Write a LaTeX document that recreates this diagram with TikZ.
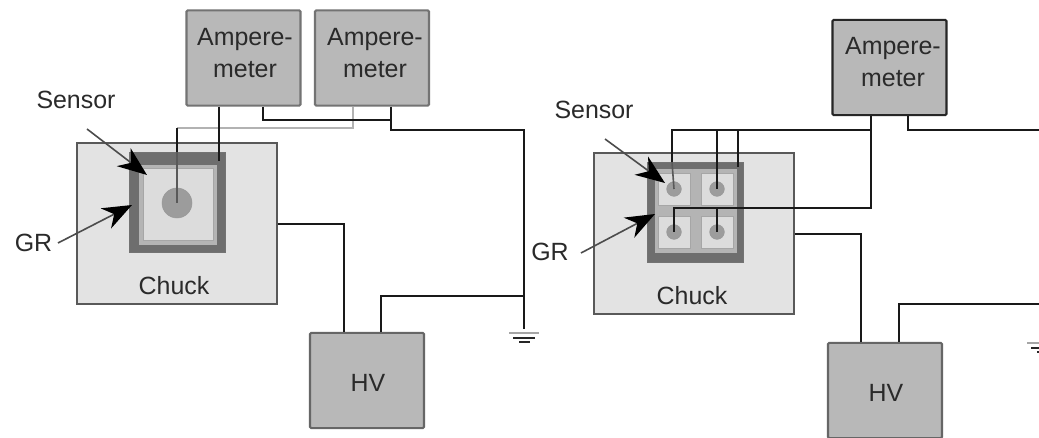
\documentclass[tikz,border=0pt]{standalone}
\usepackage{fontspec}
\setmainfont{Liberation Sans}
\usetikzlibrary{arrows.meta,calc}
\definecolor{boxgray}{HTML}{B8B8B8}
\definecolor{chuckgray}{HTML}{E3E3E3}
\definecolor{guard}{HTML}{6E6E6E}
\definecolor{ringgray}{HTML}{B4B4B4}
\definecolor{padgray}{HTML}{DCDCDC}
\definecolor{dotgray}{HTML}{9C9C9C}
\definecolor{txt}{HTML}{2A2A2A}
\tikzset{
  x=0.75pt,y=-0.75pt,
  lab/.style={inner sep=0pt,text=txt,font=\fontsize{18.7}{24}\selectfont,align=center},
  block/.style={draw=#1,line width=1.6pt,rounded corners=1pt,fill=boxgray,inner sep=0pt,
    minimum width=85.5pt,minimum height=71.5pt},
  block/.default={black!55},
  chuck/.style={draw=black!65,line width=1.2pt,fill=chuckgray,inner sep=0pt,minimum width=150pt,minimum height=120.5pt},
  guardring/.style={draw=black!55,line width=0.6pt,fill=guard,inner sep=0pt,minimum width=72pt,minimum height=75pt},
  ringbox/.style={fill=ringgray,inner sep=0pt},
  padbox/.style={draw=black!35,line width=0.5pt,fill=padgray,inner sep=0pt},
  dot/.style={circle,fill=dotgray,draw=black!40,line width=0.4pt,inner sep=0pt},
  wire/.style={line width=1.5pt,draw=black!90,line join=miter},
  graywire/.style={line width=1.5pt,draw=black!30},
  inwire/.style={line width=1.2pt,draw=black!65},
  callout/.style={line width=1.2pt,draw=black!70,-{Stealth[length=22pt,width=17pt,inset=7pt,black]}},
  gnd1/.style={line width=2pt,draw=black!35},
  gnd2/.style={line width=1.2pt,draw=black!85},
}
\begin{document}
\begin{tikzpicture}
\clip (0,0) rectangle (1039,438);
\fill[white] (0,0) rectangle (1039,438);

% ---------- left assembly ----------
\node[chuck] (chuckL) at (177,223.5) {};
\node[guardring] (grL) at (177,202.5) {};
\node[ringbox,minimum width=58.5pt,minimum height=60pt] (ringL) at (178,205) {};
\node[padbox,minimum width=52.5pt,minimum height=54.5pt] (padL) at (178,204.5) {};
\node[dot,minimum size=22.5pt] (dotL) at (177,203) {};
\node[lab] (chuckTxtL) at (174,286) {Chuck};
\node[block] (ampA) at (243.5,58) {};
\node[block] (ampB) at (372,58) {};
\node[block={black!60}] (hvL) at (367,380.5) {};
\node[lab] (ampAtxt) at (245,53) {Ampere-\\meter};
\node[lab] (ampBtxt) at (375,53) {Ampere-\\meter};
\node[lab] (hvLtxt) at (368,383) {HV};
\node[lab] (sensorL) at (76,100) {Sensor};
\node[lab] (grTxtL) at (33.5,243) {GR};

\coordinate (a1) at (219,161);
\coordinate (a2) at (263,120);
\coordinate (b1) at (391,120);
\coordinate (b2) at (524,130);
\coordinate (gndL) at (524,329);
\coordinate (g1) at (353,128);
\coordinate (g2) at (177,128);
\coordinate (cw) at (344,224);
\coordinate (hw) at (381,296);
\coordinate (jl) at (524,296);

\draw[graywire] (ampB.south -| g1) |- (g2);
\draw[wire] (g2) -- (grL.north -| g2);
\draw[inwire] (grL.north -| g2) -- (dotL.center);
\draw[wire] (ampA.south -| a1) -- (a1);
\draw[wire] (ampA.south -| a2) |- (b1);
\draw[wire] (ampB.south -| b1) |- (b2) -- (gndL);
\draw[wire] (chuckL.east |- cw) -| (hvL.north -| cw);
\draw[wire] (hvL.north -| hw) |- (jl);
\draw[gnd1] (509,333) -- (539,333);
\draw[gnd2] (513,338) -- (535,338);
\draw[gnd2] (519,342) -- (530,342);
\coordinate (sL0) at (87,129);
\coordinate (sL1) at (147,175);
\coordinate (gL0) at (58,243);
\coordinate (gL1) at (132,205);
\draw[callout] (sL0) -- (sL1);
\draw[callout] (gL0) -- (gL1);

% ---------- right assembly ----------
\node[chuck] (chuckR) at (694,233.5) {};
\node[guardring] (grR) at (695,212.5) {};
\node[ringbox,minimum width=61.5pt,minimum height=63pt] (ringR) at (696,211) {};
\node[padbox,minimum width=24pt,minimum height=24.5pt] (p1) at (674,189.5) {};
\node[padbox,minimum width=24pt,minimum height=24.5pt] (p2) at (717,189.5) {};
\node[padbox,minimum width=24pt,minimum height=24pt] (p3) at (674,232.5) {};
\node[padbox,minimum width=24pt,minimum height=24pt] (p4) at (717,232.5) {};
\node[dot,minimum size=11pt] (d1) at (674,189) {};
\node[dot,minimum size=11pt] (d2) at (717,189) {};
\node[dot,minimum size=11pt] (d3) at (674,232) {};
\node[dot,minimum size=11pt] (d4) at (717,232) {};
\node[lab] (chuckTxtR) at (692,296) {Chuck};
\node[block={black!85}] (ampC) at (889.5,67.5) {};
\node[block={black!60}] (hvR) at (885,390.5) {};
\node[lab] (ampCtxt) at (893,62.5) {Ampere-\\meter};
\node[lab] (hvRtxt) at (886,393) {HV};
\node[lab] (sensorR) at (594,110) {Sensor};
\node[lab] (grTxtR) at (550,252) {GR};

\coordinate (c1) at (871,130);
\coordinate (c2) at (672,130);
\coordinate (c3) at (717,130);
\coordinate (c4) at (738,130);
\coordinate (c5) at (871,208);
\coordinate (c6) at (674,208);
\coordinate (c7) at (717,208);
\coordinate (e1) at (908,130);
\coordinate (e2) at (1039,130);
\coordinate (rw) at (861,234);
\coordinate (hr) at (899,304);
\coordinate (hr2) at (1039,304);

\draw[wire] (ampC.south -| c1) -- (c5) -- (c6) -- (d3.center);
\draw[wire] (c7) -- (d4.center);
\draw[wire] (c1) -- (c2) -- (grR.north -| c2);
\draw[inwire] (grR.north -| c2) -- (d1.center);
\draw[wire] (c3) -- (d2.center);
\draw[wire] (c4) -- (738,167);
\draw[wire] (ampC.south -| e1) |- (e2);
\draw[wire] (chuckR.east |- rw) -| (hvR.north -| rw);
\draw[wire] (hvR.north -| hr) |- (hr2);
\draw[gnd1] (1027,343) -- (1057,343);
\draw[gnd2] (1031,348) -- (1053,348);
\draw[gnd2] (1037,352) -- (1048,352);
\coordinate (sR0) at (605,139);
\coordinate (sR1) at (665,183);
\coordinate (gR0) at (581,253);
\coordinate (gR1) at (655,214);
\draw[callout] (sR0) -- (sR1);
\draw[callout] (gR0) -- (gR1);
\end{tikzpicture}
\end{document}
